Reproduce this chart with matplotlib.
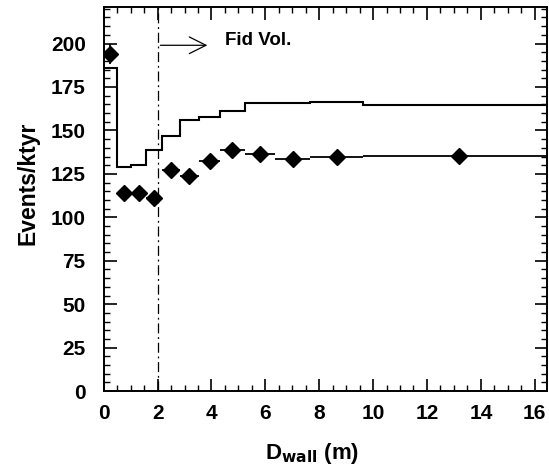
import matplotlib
matplotlib.use('Agg')
import matplotlib.pyplot as plt
import numpy as np
from matplotlib.ticker import MultipleLocator

# data
edges = np.array([0.0, 0.5, 1.0, 1.58, 2.16, 2.82, 3.54, 4.33, 5.23, 6.35, 7.67, 9.62, 16.74])
mc = np.array([186, 129, 130, 139, 147, 156, 157.5, 161, 166, 165.5, 166.5, 164.5])
xd = np.array([0.25, 0.75, 1.29, 1.87, 2.49, 3.18, 3.93, 4.78, 5.79, 7.01, 8.65, 13.18])
yd = np.array([194, 114, 114, 111, 127, 124, 132.5, 139, 136.5, 133.5, 134.5, 135.5])
yerr = np.array([6, 3.5, 3.5, 3.5, 3.5, 3.5, 3.5, 3.5, 3.5, 3.5, 3.5, 3.5])
fid_cut = 2.0

plt.rcParams['font.family'] = ['Liberation Sans', 'DejaVu Sans']
plt.rcParams['font.weight'] = 'bold'
plt.rcParams['mathtext.default'] = 'bf'
fsz = 15

fig = plt.figure(figsize=(5.49, 4.69), dpi=100, facecolor='w')
ax = fig.add_axes([0.189, 0.166, 0.807, 0.819])

# MC histogram
ax.stairs(mc, edges, color='black', lw=1.5, baseline=None)

# data points with bin-width bars
xlo = xd - edges[:-1]
xhi = edges[1:] - xd
ax.errorbar(xd, yd, xerr=[xlo, xhi], yerr=yerr, fmt='D', color='black',
            ms=8, elinewidth=1.3, capsize=0)

# fiducial volume cut
ax.axvline(fid_cut, color='black', lw=0.9, ls=(0, (8, 3, 1.5, 3)))
ax.annotate('', xy=(3.95, 199), xytext=(fid_cut, 199),
            arrowprops=dict(arrowstyle='->', color='black', lw=0.9,
                            mutation_scale=30))
ax.text(4.5, 202, 'Fid Vol.', fontsize=fsz - 1.5, fontweight='bold', va='center', ha='left')

ax.set_xlim(0, 16.45)
ax.set_ylim(0, 221)
ax.xaxis.set_major_locator(MultipleLocator(2))
ax.xaxis.set_minor_locator(MultipleLocator(0.5))
ax.yaxis.set_major_locator(MultipleLocator(25))
ax.yaxis.set_minor_locator(MultipleLocator(5))
ax.tick_params(which='both', direction='in', top=True, right=True, labelsize=fsz)
ax.tick_params(which='major', length=9, width=1.2)
ax.tick_params(which='minor', length=4, width=1.0)
ax.tick_params(axis='x', which='major', pad=9)
ax.tick_params(axis='y', which='major', pad=13)
for s in ax.spines.values():
    s.set_linewidth(1.4)
for lab in ax.get_xticklabels() + ax.get_yticklabels():
    lab.set_fontweight('bold')

ax.set_xlabel(r'D$_{\mathbf{wall}}$ (m)', fontsize=fsz + 1, fontweight='bold', labelpad=6)
ax.xaxis.set_label_coords(0.47, -0.13)
ax.set_ylabel('Events/ktyr', fontsize=fsz + 1.5, fontweight='bold')
ax.yaxis.set_label_coords(-0.145, 0.54)

fig.savefig('out.png', dpi=100)
